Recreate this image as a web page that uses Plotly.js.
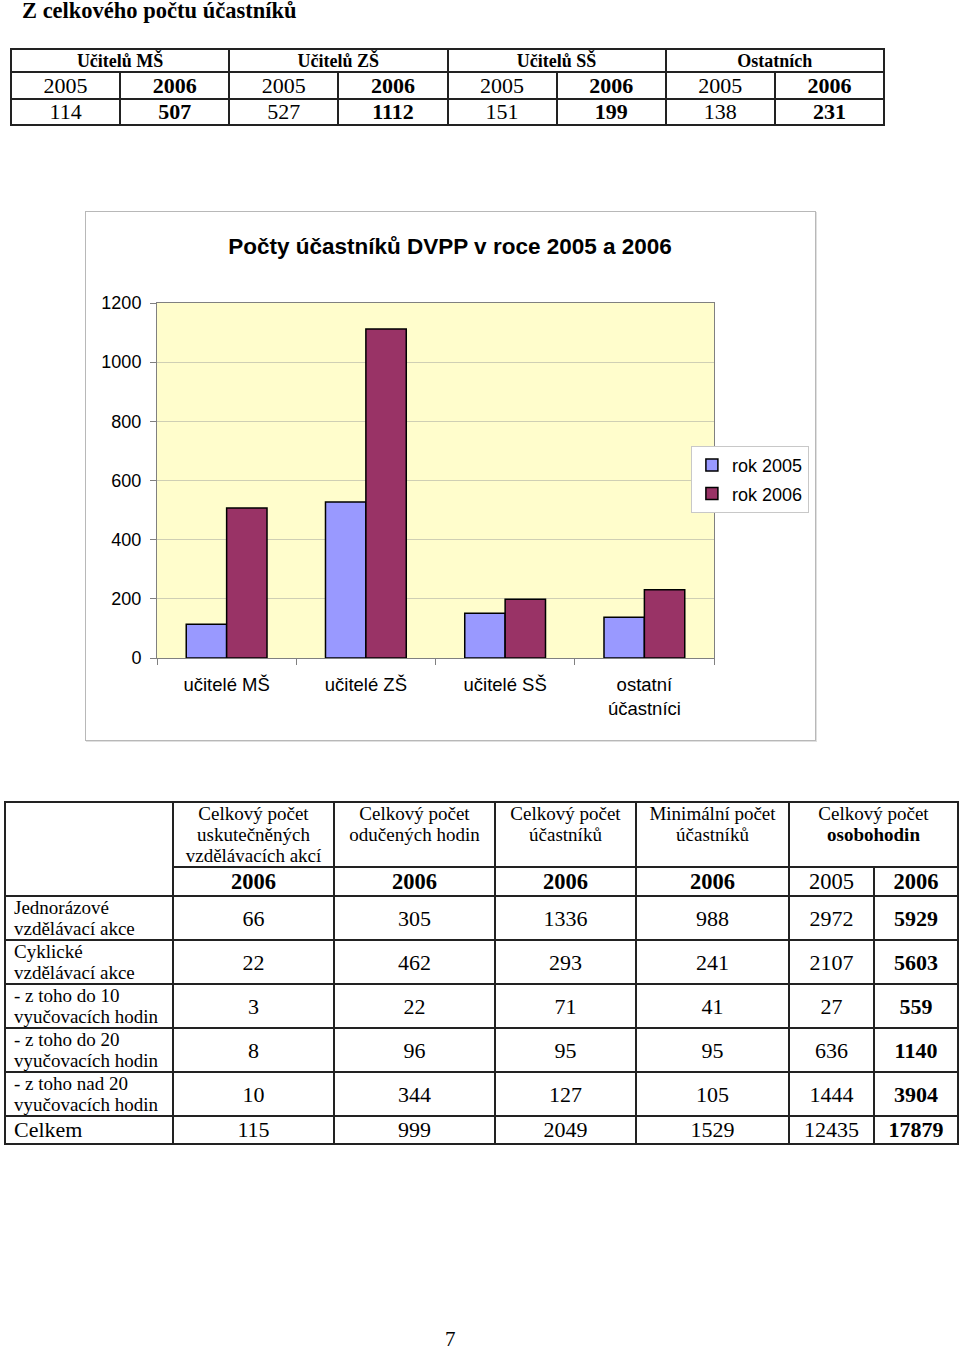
<!DOCTYPE html>
<html><head><meta charset="utf-8">
<script src="https://cdn.plot.ly/plotly-3.0.1.min.js"></script>
<style>
body{margin:0;width:960px;height:1349px;position:relative;background:#fff;font-family:"Liberation Serif","Times New Roman",serif;color:#000;overflow:hidden}
#title{position:absolute;left:22px;top:0px;font-size:22.5px;line-height:22px;font-weight:bold;white-space:nowrap}
table{border-collapse:collapse;table-layout:fixed;position:absolute}
td{border:2px solid #222;padding:0;text-align:center;vertical-align:middle;overflow:hidden}
#t1{left:10px;top:48px;width:875px}
#t1 tr.h td{height:21px;font-size:18px;font-weight:bold;line-height:20px}
#t1 tr.r td{height:25px;font-size:22px;line-height:24px}
#t1 tr.r.last td{height:24px}
#frame{position:absolute;left:85px;top:211px;width:729px;height:528px;border:1px solid #b8b8b8;box-shadow:1px 1px 0 #e0e0e0}
#chart{position:absolute;left:85px;top:211px;width:730px;height:529px}
#t2{left:4px;top:801px;width:953px}
#t2 td{font-size:19px;line-height:21px}
#t2 tr.hd td{height:63px;vertical-align:top;padding-top:0}
#t2 tr.yr td{height:27px;font-size:22.5px;line-height:24px}
#t2 tr.dr td{height:42px;font-size:22px}
#t2 tr.dr td.lab{font-size:19px;text-align:left;padding-left:8px;line-height:21px}
#t2 tr.tot td{height:26px;font-size:22px;line-height:24px}
#t2 tr.tot td.lab{text-align:left;padding-left:8px}
#pg{position:absolute;left:445px;top:1327px;font-size:21px}
</style></head>
<body>
<div id="title">Z celkového počtu účastníků</div>
<table id="t1"></table>
<div id="frame"></div>
<div id="chart"></div>
<table id="t2"></table>
<div id="pg">7</div>
<script>
// ---- top table data ----
const groupNames = ['Učitelů MŠ','Učitelů ZŠ','Učitelů SŠ','Ostatních'];
const years = ['2005','2006'];
const counts2005 = [114, 527, 151, 138];
const counts2006 = [507, 1112, 199, 231];

// ---- chart data ----
const chartTitle = 'Počty účastníků DVPP v roce 2005 a 2006';
const categories = ['učitelé MŠ','učitelé ZŠ','učitelé SŠ','ostatní<br>účastníci'];
const seriesNames = ['rok 2005','rok 2006'];
const yTicks = [0,200,400,600,800,1000,1200];

// ---- bottom table data ----
const colHeaders = ['Celkový počet<br>uskutečněných<br>vzdělávacích akcí','Celkový počet<br>odučených hodin','Celkový počet<br>účastníků','Minimální počet<br>účastníků','Celkový počet<br><b>osobohodin</b>'];
const rowLabels = ['Jednorázové<br>vzdělávací akce','Cyklické<br>vzdělávací akce','- z toho do 10<br>vyučovacích hodin','- z toho do 20<br>vyučovacích hodin','- z toho nad 20<br>vyučovacích hodin'];
const akce = [66, 22, 3, 8, 10];
const hodiny = [305, 462, 22, 96, 344];
const ucastnici = [1336, 293, 71, 95, 127];
const minUcastnici = [988, 241, 41, 95, 105];
const osobohodin2005 = [2972, 2107, 27, 636, 1444];
const osobohodin2006 = [5929, 5603, 559, 1140, 3904];
const totalLabel = 'Celkem';
const totals = [115, 999, 2049, 1529, 12435, 17879];

// build top table
(function(){
  const t = document.getElementById('t1');
  let h = '<colgroup>' + '<col>'.repeat(8) + '</colgroup>';
  h += '<tr class="h">' + groupNames.map(g=>'<td colspan="2">'+g+'</td>').join('') + '</tr>';
  h += '<tr class="r">' + groupNames.map(()=>'<td>'+years[0]+'</td><td><b>'+years[1]+'</b></td>').join('') + '</tr>';
  h += '<tr class="r last">' + counts2005.map((v,i)=>'<td>'+v+'</td><td><b>'+counts2006[i]+'</b></td>').join('') + '</tr>';
  t.innerHTML = h;
})();

// build bottom table
(function(){
  const t = document.getElementById('t2');
  const widths = [168,161,161,141,153,85,84];
  let h = '<colgroup>' + widths.map(w=>'<col style="width:'+w+'px">').join('') + '</colgroup>';
  h += '<tr class="hd"><td rowspan="2"></td>' + colHeaders.map((c,i)=>'<td'+(i===4?' colspan="2"':'')+'>'+c+'</td>').join('') + '</tr>';
  h += '<tr class="yr"><td><b>2006</b></td><td><b>2006</b></td><td><b>2006</b></td><td><b>2006</b></td><td>2005</td><td><b>2006</b></td></tr>';
  rowLabels.forEach((l,i)=>{
    h += '<tr class="dr"><td class="lab">'+l+'</td><td>'+akce[i]+'</td><td>'+hodiny[i]+'</td><td>'+ucastnici[i]+'</td><td>'+minUcastnici[i]+'</td><td>'+osobohodin2005[i]+'</td><td><b>'+osobohodin2006[i]+'</b></td></tr>';
  });
  h += '<tr class="tot"><td class="lab">'+totalLabel+'</td>' + totals.map((v,i)=>'<td>'+(i===5?'<b>'+v+'</b>':v)+'</td>').join('') + '</tr>';
  t.innerHTML = h;
})();

// chart
const F = 'Liberation Sans, Arial, sans-serif';
const traces = [
  {type:'bar', name:seriesNames[0], legendgroup:'a', x:categories, y:counts2005, marker:{color:'#9999FF', line:{color:'#000', width:1.5}}},
  {type:'bar', name:seriesNames[1], legendgroup:'b', x:categories, y:counts2006, marker:{color:'#993366', line:{color:'#000', width:1.5}}}
];
const layout = {
  width:730, height:529,
  margin:{l:72, r:101, t:92, b:82, autoexpand:false},
  paper_bgcolor:'rgba(0,0,0,0)', plot_bgcolor:'#FFFDCC',
  font:{family:F, size:18, color:'#000'},
  title:{text:'<b>'+chartTitle+'</b>', font:{family:F, size:22.5, color:'#000'}, x:0.5, xref:'container', y:0.934, yref:'container', yanchor:'middle'},
  barmode:'group', bargap:0.42, bargroupgap:0,
  showlegend:true,
  legend:{xref:'container', yref:'container', x:0.83, xanchor:'left', y:0.556, yanchor:'top', bgcolor:'#fff', bordercolor:'#c8c8c8', borderwidth:1, font:{family:F, size:18}, tracegroupgap:2, itemwidth:30},
  xaxis:{type:'category', ticks:'outside', tickson:'boundaries', ticklen:6, tickcolor:'#808080', showline:true, linecolor:'#808080', linewidth:1, mirror:true, tickfont:{family:F, size:18.5}, ticklabelstandoff:10, showgrid:false, fixedrange:true},
  yaxis:{range:[0,1200], tickvals:yTicks, ticks:'outside', ticklen:6, tickcolor:'#808080', showline:true, linecolor:'#808080', linewidth:1, mirror:true, showgrid:true, gridcolor:'#cfcfb4', gridwidth:1, zeroline:false, tickfont:{family:F, size:18}, ticklabelstandoff:5, fixedrange:true}
};
Plotly.newPlot('chart', traces, layout, {displayModeBar:false, staticPlot:true});
</script>
</body></html>
